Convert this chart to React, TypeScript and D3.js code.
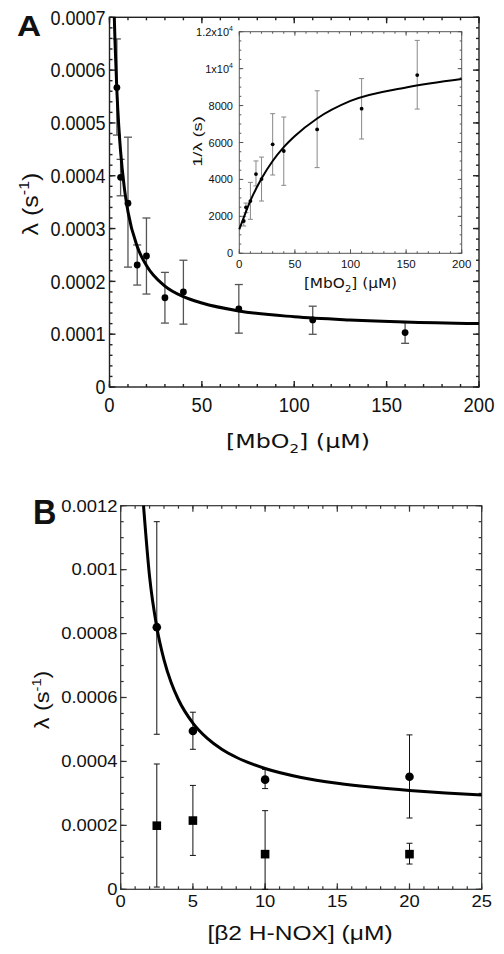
import React from "react";
import * as d3 from "d3";

// ---------- Panel A (main) data ----------
const aConc = [4, 6, 10, 15, 20, 30, 40, 70, 110, 160];
const aRate = [0.000567, 0.000397, 0.000348, 0.000231, 0.000248, 0.000169, 0.00018, 0.000148, 0.000127, 0.000103];
const aRateLo = [0.000477, 0.000362, 0.000227, 0.000193, 0.000176, 0.000121, 0.000119, 0.000102, 0.0000998, 0.0000827];
const aRateHi = [0.000659, 0.000431, 0.000473, 0.000269, 0.00032, 0.000217, 0.00024, 0.000194, 0.000153, 0.000122];
const aFitX = [2.6, 3, 4, 5, 6, 8, 10, 15, 20, 30, 40, 50, 70, 100, 130, 160, 200];
const aFitY = [0.0007, 0.000652, 0.00056, 0.000495, 0.000446, 0.000378, 0.000332, 0.000266, 0.00023, 0.000191, 0.000171, 0.000159, 0.000144, 0.000133, 0.000127, 0.000123, 0.00012];
const aXTicks = [0, 50, 100, 150, 200];
const aYTicks = [0, 0.0001, 0.0002, 0.0003, 0.0004, 0.0005, 0.0006, 0.0007];
const aYTickLabels = ["0", "0.0001", "0.0002", "0.0003", "0.0004", "0.0005", "0.0006", "0.0007"];

// ---------- Panel A inset data ----------
const insetConc = [4, 6, 10, 15, 20, 30, 40, 70, 110, 160];
const insetInv = [1750, 2490, 2830, 4290, 4020, 5900, 5540, 6710, 7830, 9650];
const insetLo = [1480, 2200, 1840, 3650, 2830, 4240, 3680, 4640, 6190, 7810];
const insetHi = [1990, 2720, 3840, 5000, 5210, 7560, 7380, 8800, 9460, 11530];
const insetFitX = [0, 5, 10, 20, 30, 40, 50, 70, 100, 150, 200];
const insetFitY = [1300, 2100, 2850, 4050, 5000, 5750, 6350, 7300, 8250, 8980, 9440];
const insetXTicks = [0, 50, 100, 150, 200];
const insetYTicks = [0, 2000, 4000, 6000, 8000, 10000, 12000];

// ---------- Panel B data ----------
const bConc = [2.5, 5, 10, 20];
const bCircle = [0.00082, 0.000495, 0.000343, 0.000352];
const bCircleLo = [0.000485, 0.000438, 0.000315, 0.000223];
const bCircleHi = [0.00115, 0.000554, 0.000375, 0.000483];
const bSquare = [0.000199, 0.000215, 0.00011, 0.00011];
const bSquareLo = [0.000007, 0.000106, 0, 0.000079];
const bSquareHi = [0.000392, 0.000325, 0.000246, 0.000144];
const bFitX = [1.58, 2, 2.5, 3, 3.5, 4, 5, 6, 7, 8, 10, 12.5, 15, 17.5, 20, 22.5, 25];
const bFitY = [0.0012, 0.000978, 0.00082, 0.000718, 0.000646, 0.000593, 0.00052, 0.000472, 0.000438, 0.000413, 0.000378, 0.00035, 0.000332, 0.000319, 0.000309, 0.000301, 0.000295];
const bXTicks = [0, 5, 10, 15, 20, 25];
const bYTicks = [0, 0.0002, 0.0004, 0.0006, 0.0008, 0.001, 0.0012];
const bYTickLabels = ["0", "0.0002", "0.0004", "0.0006", "0.0008", "0.001", "0.0012"];

const SANS = "'Liberation Sans', Arial, Helvetica, sans-serif";
const DEJA = "'DejaVu Sans', Verdana, sans-serif";
const INK = "#111";

// scales
const ax = d3.scaleLinear().domain([0, 200]).range([109.5, 479]);
const ay = d3.scaleLinear().domain([0, 0.0007]).range([387, 17.3]);
const ix = d3.scaleLinear().domain([0, 200]).range([239.3, 461.7]);
const iy = d3.scaleLinear().domain([0, 12000]).range([253.3, 31.7]);
const bx = d3.scaleLinear().domain([0, 25]).range([120.7, 481.7]);
const by = d3.scaleLinear().domain([0, 0.0012]).range([889.3, 505.7]);

function T({ x, y, sx = 1, sy = 1, rot = 0, anchor = "middle", size, family = SANS, weight = "normal", children }: any) {
  return (
    <g transform={`translate(${x},${y}) scale(${sx},${sy})${rot ? ` rotate(${rot})` : ""}`}>
      <text textAnchor={anchor} fontSize={size} fontFamily={family} fontWeight={weight} fill={INK}>
        {children}
      </text>
    </g>
  );
}

function Frame({ xs, ys, xMajor, xMinor, yMajor, yMinor, majLen, minLen, stroke, sw }: any) {
  const [xa, xb] = xs.range();
  const [ya, yb] = ys.range();
  const left = Math.min(xa, xb), right = Math.max(xa, xb);
  const top = Math.min(ya, yb), bottom = Math.max(ya, yb);
  const lines: any[] = [];
  const addX = (vals: number[], len: number, key: string) =>
    vals.forEach((v, i) => {
      const px = xs(v);
      lines.push(<line key={key + "b" + i} x1={px} x2={px} y1={bottom} y2={bottom - len} />);
      lines.push(<line key={key + "t" + i} x1={px} x2={px} y1={top} y2={top + len} />);
    });
  const addY = (vals: number[], len: number, key: string) =>
    vals.forEach((v, i) => {
      const py = ys(v);
      lines.push(<line key={key + "l" + i} x1={left} x2={left + len} y1={py} y2={py} />);
      lines.push(<line key={key + "r" + i} x1={right} x2={right - len} y1={py} y2={py} />);
    });
  addX(xMinor, minLen, "xm");
  addX(xMajor, majLen, "xM");
  addY(yMinor, minLen, "ym");
  addY(yMajor, majLen, "yM");
  return (
    <g stroke={stroke} strokeWidth={sw} fill="none">
      {lines}
      <rect x={left} y={top} width={right - left} height={bottom - top} />
    </g>
  );
}

function ErrBars({ xs, ys, xv, lo, hi, cap, color, sw }: any) {
  return (
    <g stroke={color} strokeWidth={sw}>
      {xv.map((v: number, i: number) => {
        const px = xs(v);
        return (
          <g key={i}>
            <line x1={px} x2={px} y1={ys(lo[i])} y2={ys(hi[i])} />
            <line x1={px - cap / 2} x2={px + cap / 2} y1={ys(lo[i])} y2={ys(lo[i])} />
            <line x1={px - cap / 2} x2={px + cap / 2} y1={ys(hi[i])} y2={ys(hi[i])} />
          </g>
        );
      })}
    </g>
  );
}

function curvePath(xs: any, ys: any, X: number[], Y: number[]) {
  const line = d3
    .line<number>()
    .x((_, i) => xs(X[i]))
    .y((d) => ys(d))
    .curve(d3.curveMonotoneX);
  return line(Y) || "";
}

export default function App() {
  const step = (a: number, b: number, s: number) => d3.range(a, b + s / 2, s);
  return (
    <svg width={504} height={954} style={{ position: "absolute", left: 0, top: 0, background: "#fff" }}>
      <rect x={0} y={0} width={504} height={954} fill="#fff" />

      {/* ================= Panel A ================= */}
      <Frame
        xs={ax}
        ys={ay}
        xMajor={aXTicks}
        xMinor={step(0, 200, 10)}
        yMajor={aYTicks}
        yMinor={step(0, 0.0007, 0.00002)}
        majLen={6}
        minLen={3}
        stroke="#222"
        sw={1.4}
      />
      {aXTicks.map((v) => (
        <T key={"ax" + v} x={ax(v)} y={412} size={20.5} sx={0.9}>
          {String(v)}
        </T>
      ))}
      {aYTicks.map((v, i) => (
        <T key={"ay" + v} x={105.5} y={ay(v) + 7.2} size={20} sx={0.9} anchor="end">
          {aYTickLabels[i]}
        </T>
      ))}
      <T x={17} y={35.7} size={29} sx={1.15} anchor="start" weight="bold">
        A
      </T>
      <T x={37.5} y={204} size={25} sx={0.9} rot={-90}>
        λ (s<tspan fontSize={16} dy={-9}>-1</tspan>
        <tspan dy={9}>)</tspan>
      </T>
      <T x={298} y={448} size={19} sx={1.25} family={DEJA}>
        [MbO<tspan fontSize={12} dy={5}>2</tspan>
        <tspan dy={-5}>] (μM)</tspan>
      </T>

      <ErrBars xs={ax} ys={ay} xv={aConc} lo={aRateLo} hi={aRateHi} cap={8} color="#555" sw={1.3} />
      <path d={curvePath(ax, ay, aFitX, aFitY)} fill="none" stroke="#000" strokeWidth={3} />
      {aConc.map((v, i) => (
        <circle key={"ad" + i} cx={ax(v)} cy={ay(aRate[i])} r={3.4} fill="#000" />
      ))}

      {/* ---------- inset ---------- */}
      <rect x={239.3} y={31.7} width={222.4} height={221.6} fill="#fff" />
      <Frame
        xs={ix}
        ys={iy}
        xMajor={insetXTicks}
        xMinor={step(0, 200, 10)}
        yMajor={insetYTicks}
        yMinor={step(0, 12000, 500)}
        majLen={4}
        minLen={2}
        stroke="#555"
        sw={1}
      />
      {insetXTicks.map((v) => (
        <T key={"ix" + v} x={ix(v)} y={268} size={11.5}>
          {String(v)}
        </T>
      ))}
      {insetYTicks.map((v) => (
        <T key={"iy" + v} x={233} y={iy(v) + 4} size={11} anchor="end">
          {v === 12000 ? (
            <>
              1.2x10<tspan fontSize={7} dy={-5}>4</tspan>
            </>
          ) : v === 10000 ? (
            <>
              1x10<tspan fontSize={7} dy={-5}>4</tspan>
            </>
          ) : (
            String(v)
          )}
        </T>
      ))}
      <T x={202} y={141.5} size={13} sy={1.4} rot={-90}>
        1/λ (s)
      </T>
      <T x={350.5} y={288.3} size={13.7} sx={1.12} family={DEJA}>
        [MbO<tspan fontSize={9} dy={3.5}>2</tspan>
        <tspan dy={-3.5}>] (μM)</tspan>
      </T>
      <ErrBars xs={ix} ys={iy} xv={insetConc} lo={insetLo} hi={insetHi} cap={5} color="#888" sw={1} />
      <path d={curvePath(ix, iy, insetFitX, insetFitY)} fill="none" stroke="#000" strokeWidth={2} />
      {insetConc.map((v, i) => (
        <circle key={"id" + i} cx={ix(v)} cy={iy(insetInv[i])} r={1.9} fill="#000" />
      ))}

      {/* ================= Panel B ================= */}
      <Frame
        xs={bx}
        ys={by}
        xMajor={bXTicks}
        xMinor={step(0, 25, 1)}
        yMajor={bYTicks}
        yMinor={step(0, 0.0012, 0.00005)}
        majLen={6}
        minLen={3}
        stroke="#333"
        sw={1.2}
      />
      {bXTicks.map((v) => (
        <T key={"bx" + v} x={bx(v)} y={906.5} size={16} sx={1.15}>
          {String(v)}
        </T>
      ))}
      {bYTicks.map((v, i) => (
        <T key={"by" + v} x={117.5} y={by(v) + 5.8} size={16} sx={1.15} anchor="end">
          {bYTickLabels[i]}
        </T>
      ))}
      <T x={33} y={524} size={36} sx={0.9} anchor="start" weight="bold">
        B
      </T>
      <T x={49} y={700} size={21} sy={1.12} rot={-90}>
        λ (s<tspan fontSize={13} dy={-8}>-1</tspan>
        <tspan dy={8}>)</tspan>
      </T>
      <T x={300} y={940} size={21} sx={1.17}>
        [β2 H-NOX] (μM)
      </T>

      <ErrBars xs={bx} ys={by} xv={bConc} lo={bCircleLo} hi={bCircleHi} cap={6} color="#111" sw={1} />
      <ErrBars xs={bx} ys={by} xv={bConc} lo={bSquareLo} hi={bSquareHi} cap={6} color="#111" sw={1} />
      <path d={curvePath(bx, by, bFitX, bFitY)} fill="none" stroke="#000" strokeWidth={3} />
      {bConc.map((v, i) => (
        <circle key={"bc" + i} cx={bx(v)} cy={by(bCircle[i])} r={4.3} fill="#000" />
      ))}
      {bConc.map((v, i) => (
        <rect key={"bs" + i} x={bx(v) - 4.3} y={by(bSquare[i]) - 4.3} width={8.6} height={8.6} fill="#000" />
      ))}
    </svg>
  );
}
